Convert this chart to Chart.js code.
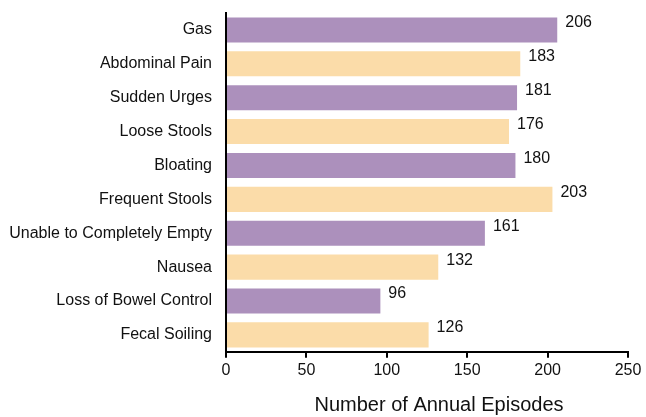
<!DOCTYPE html>
<html>
<head>
<meta charset="utf-8">
<script src="https://cdn.jsdelivr.net/npm/chart.js@4/dist/chart.umd.min.js"></script>
<style>
  html, body { margin: 0; padding: 0; background: #fff; }
  #wrap { width: 646px; height: 417px; }
</style>
</head>
<body>
<div id="wrap"><canvas id="symptomChart"></canvas></div>
<script>
// Chart data
const categories = [
    'Gas', 'Abdominal Pain', 'Sudden Urges', 'Loose Stools', 'Bloating',
    'Frequent Stools', 'Unable to Completely Empty', 'Nausea',
    'Loss of Bowel Control', 'Fecal Soiling'
];
const episodes = [206, 183, 181, 176, 180, 203, 161, 132, 96, 126];
const xTicks = [0, 50, 100, 150, 200, 250];
const xTitle = 'Number of Annual Episodes';

const PURPLE = '#ac90bc';
const ORANGE = '#fbdca9';
const FONT = "'Liberation Sans', Arial, sans-serif";

// Value labels drawn just right of each bar end, plus the axis title
// (drawn here so it can sit a little right of centre like the original)
const valueLabels = {
    id: 'valueLabels',
    afterDatasetsDraw(chart) {
        const ctx = chart.ctx;
        const meta = chart.getDatasetMeta(0);
        ctx.save();
        ctx.font = '16px ' + FONT;
        ctx.fillStyle = '#111';
        ctx.textAlign = 'left';
        ctx.textBaseline = 'middle';
        meta.data.forEach((bar, i) => {
            ctx.fillText(String(episodes[i]), bar.x + 8, bar.y - 7);
        });

        const area = chart.chartArea;
        ctx.font = '20px ' + FONT;
        ctx.textAlign = 'center';
        ctx.fillText(xTitle, (area.left + area.right) / 2 + 12, chart.height - 12);
        ctx.restore();
    }
};

document.addEventListener('DOMContentLoaded', function() {
    const ctx = document.getElementById('symptomChart');
    new Chart(ctx, {
        type: 'bar',
        data: {
            labels: categories,
            datasets: [{
                data: episodes,
                backgroundColor: categories.map((c, i) => i % 2 === 0 ? PURPLE : ORANGE),
                borderWidth: 0,
                barPercentage: 0.74,
                categoryPercentage: 1.0
            }]
        },
        options: {
            indexAxis: 'y',
            responsive: true,
            maintainAspectRatio: false,
            animation: false,
            layout: {
                padding: { top: 13, right: 18, left: 8, bottom: 0 }
            },
            plugins: {
                legend: { display: false },
                tooltip: { enabled: false }
            },
            scales: {
                x: {
                    min: 0,
                    max: 250,
                    afterBuildTicks: function(scale) {
                        scale.ticks = xTicks.map(v => ({ value: v }));
                    },
                    grid: {
                        display: true,
                        drawOnChartArea: false,
                        drawTicks: true,
                        tickLength: 6,
                        color: '#000',
                        lineWidth: 2
                    },
                    border: { display: true, color: '#000', width: 2 },
                    ticks: {
                        color: '#111',
                        font: { family: FONT, size: 16 },
                        padding: 3,
                        maxRotation: 0
                    },
                    title: {
                        // keeps the space; the text itself is drawn by the plugin
                        display: true,
                        text: xTitle,
                        color: 'rgba(0,0,0,0)',
                        font: { family: FONT, size: 20 },
                        padding: { top: 10, bottom: 0 }
                    }
                },
                y: {
                    afterFit: function(scale) {
                        // fixed label column; no extra top/bottom padding
                        scale.width = 218;
                        scale.paddingTop = 0;
                        scale.paddingBottom = 0;
                    },
                    grid: { display: false, drawTicks: false },
                    border: { display: true, color: '#000', width: 2 },
                    ticks: {
                        color: '#111',
                        font: { family: FONT, size: 16 },
                        padding: 14
                    }
                }
            }
        },
        plugins: [valueLabels]
    });
});
</script>
</body>
</html>
